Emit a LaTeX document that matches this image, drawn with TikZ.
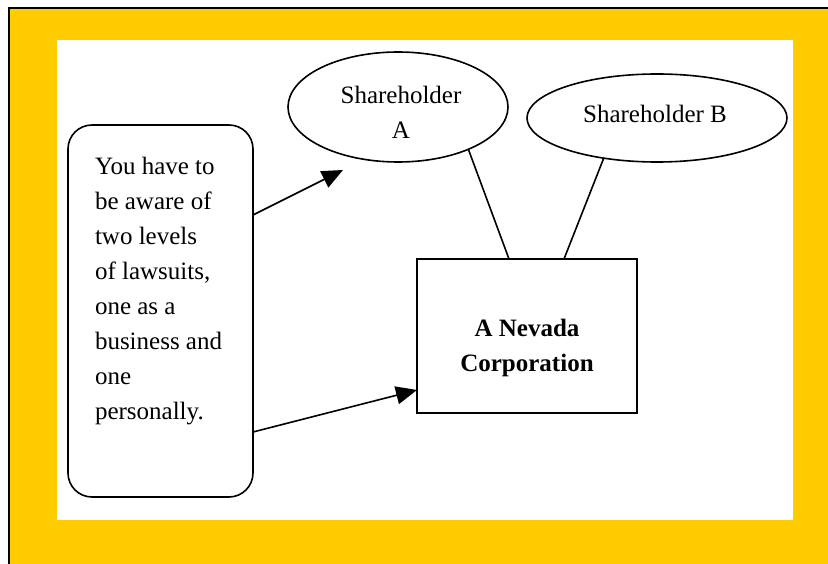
\documentclass[tikz,border=0pt]{standalone}
\usepackage{fontspec}
\setmainfont{Liberation Serif}
\usetikzlibrary{shapes.geometric,arrows.meta}
\definecolor{frameyellow}{HTML}{FFCC00}
\begin{document}
\begin{tikzpicture}[x=1pt,y=-1pt,
  every node/.style={inner sep=0pt,outer sep=0pt},
  txt/.style={font=\fontsize{25}{35}\selectfont},
  outline/.style={draw=black,line width=1.6pt},
  link/.style={draw=black,line width=1.6pt},
  arr/.style={link,-{Triangle[length=21pt,width=18pt]}}]
  \useasboundingbox (0,0) rectangle (828,564);
  % frame and white panel
  \fill[frameyellow] (9,8) rectangle (828,564);
  \draw[line width=2.6pt] (9,564) -- (9,8) -- (828,8);
  \fill[white] (57,40) rectangle (793,520);
  % shapes
  \node[outline,rounded corners=24pt,minimum width=185pt,minimum height=372pt] (note) at (160.5,311) {};
  \node[txt,anchor=north west,align=left] (notetext) at (95,157)
    {You have to\\be aware of\\two levels\\of lawsuits,\\one as a\\business and\\one\\personally.};
  \node[outline,ellipse,minimum width=220pt,minimum height=110pt] (sha) at (398,107) {};
  \node[txt,anchor=north,align=center] (shatext) at (401,86) {Shareholder\\A};
  \node[outline,ellipse,minimum width=260pt,minimum height=88pt] (shb) at (657,118) {};
  \node[txt,anchor=base] (shbtext) at (655,123) {Shareholder B};
  \node[outline,minimum width=220pt,minimum height=154pt] (corp) at (527,336) {};
  \node[txt,anchor=north,align=center,font=\fontsize{25}{35}\selectfont\bfseries] (corptext) at (527,319) {A Nevada\\Corporation};
  % connectors
  \coordinate (tipA) at (343,170);
  \draw[arr] ([yshift=96pt]note.east) -- (tipA);
  \draw[arr] ([yshift=-121pt]note.east) -- ([yshift=-54pt]corp.west);
  \draw[link] (sha.-31.6) -- ([xshift=-18pt]corp.north);
  \draw[link] (shb.-143.5) -- ([xshift=37pt]corp.north);
\end{tikzpicture}
\end{document}
